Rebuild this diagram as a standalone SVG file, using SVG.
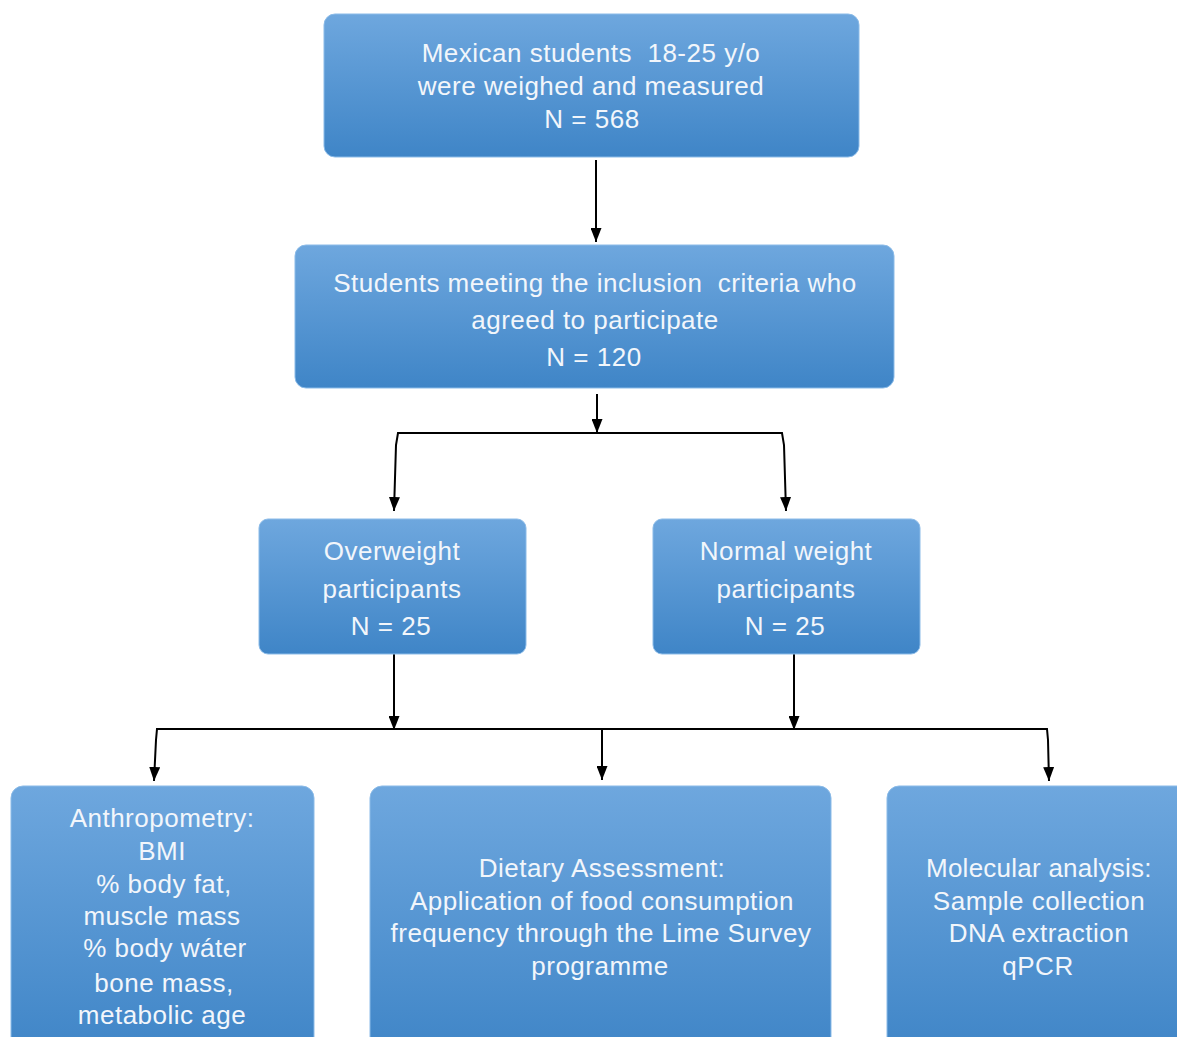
<svg xmlns="http://www.w3.org/2000/svg" width="1177" height="1037" viewBox="0 0 1177 1037">
<defs>
<linearGradient id="g" x1="0" y1="0" x2="0" y2="1">
<stop offset="0" stop-color="#6ea7de"/>
<stop offset="1" stop-color="#3f85c7"/>
</linearGradient>
<marker id="ah" viewBox="0 0 14 11" refX="14" refY="5.5" markerWidth="14" markerHeight="11" markerUnits="userSpaceOnUse" orient="auto-start-reverse">
<path d="M0,0 L14,5.5 L0,11 Z" fill="#000"/>
</marker>
</defs>
<style>
.box{fill:url(#g);stroke:#8bbbe8;stroke-width:1}
.t{font-family:"Liberation Sans",Arial,sans-serif;font-size:26px;letter-spacing:0.5px;fill:#f2f6fb;text-anchor:middle;white-space:pre}
.c{fill:none;stroke:#000;stroke-width:2}
</style>
<rect width="1177" height="1037" fill="#fff"/>
<g id="connectors">
<line class="c" x1="596" y1="160" x2="596" y2="242" marker-end="url(#ah)"/>
<line class="c" x1="597" y1="394" x2="597" y2="433" marker-end="url(#ah)"/>
<polyline class="c" points="394,511 396,445 398,433 782,433 784,445 786,511" marker-start="url(#ah)" marker-end="url(#ah)"/>
<line class="c" x1="394" y1="654" x2="394" y2="730" marker-end="url(#ah)"/>
<line class="c" x1="794" y1="654" x2="794" y2="730" marker-end="url(#ah)"/>
<polyline class="c" points="154,781 156,740 157,729 1047,729 1048,740 1049,781" marker-start="url(#ah)" marker-end="url(#ah)"/>
<line class="c" x1="602" y1="729" x2="602" y2="780" marker-end="url(#ah)"/>
</g>
<g id="n1">
<rect class="box" x="324" y="14" width="535" height="143" rx="11"/>
<text class="t" x="591" y="62" xml:space="preserve">Mexican students  18-25 y/o</text>
<text class="t" x="591" y="95">were weighed and measured</text>
<text class="t" x="592" y="128">N = 568</text>
</g>
<g id="n2">
<rect class="box" x="295" y="245" width="599" height="143" rx="11"/>
<text class="t" x="595" y="292" xml:space="preserve">Students meeting the inclusion  criteria who</text>
<text class="t" x="595" y="329">agreed to participate</text>
<text class="t" x="594" y="366">N = 120</text>
</g>
<g id="n3">
<rect class="box" x="259" y="519" width="267" height="135" rx="9"/>
<text class="t" x="392" y="560">Overweight</text>
<text class="t" x="392" y="598">participants</text>
<text class="t" x="391" y="635">N = 25</text>
</g>
<g id="n4">
<rect class="box" x="653" y="519" width="267" height="135" rx="9"/>
<text class="t" x="786" y="560">Normal weight</text>
<text class="t" x="786" y="598">participants</text>
<text class="t" x="785" y="635">N = 25</text>
</g>
<g id="n5">
<rect class="box" x="11" y="786" width="303" height="270" rx="12"/>
<text class="t" x="162" y="827">Anthropometry:</text>
<text class="t" x="162" y="860">BMI</text>
<text class="t" x="164" y="893">% body fat,</text>
<text class="t" x="162" y="925">muscle mass</text>
<text class="t" x="165" y="957">% body wáter</text>
<text class="t" x="164" y="992">bone mass,</text>
<text class="t" x="162" y="1024">metabolic age</text>
</g>
<g id="n6">
<rect class="box" x="370" y="786" width="461" height="270" rx="12"/>
<text class="t" x="602" y="877">Dietary Assessment:</text>
<text class="t" x="602" y="910">Application of food consumption</text>
<text class="t" x="601" y="942" textLength="421">frequency through the Lime Survey</text>
<text class="t" x="600" y="975">programme</text>
</g>
<g id="n7">
<rect class="box" x="887" y="786" width="310" height="270" rx="12"/>
<text class="t" x="1039" y="877" textLength="226">Molecular analysis:</text>
<text class="t" x="1039" y="910">Sample collection</text>
<text class="t" x="1039" y="942">DNA extraction</text>
<text class="t" x="1038" y="975">qPCR</text>
</g>
</svg>
